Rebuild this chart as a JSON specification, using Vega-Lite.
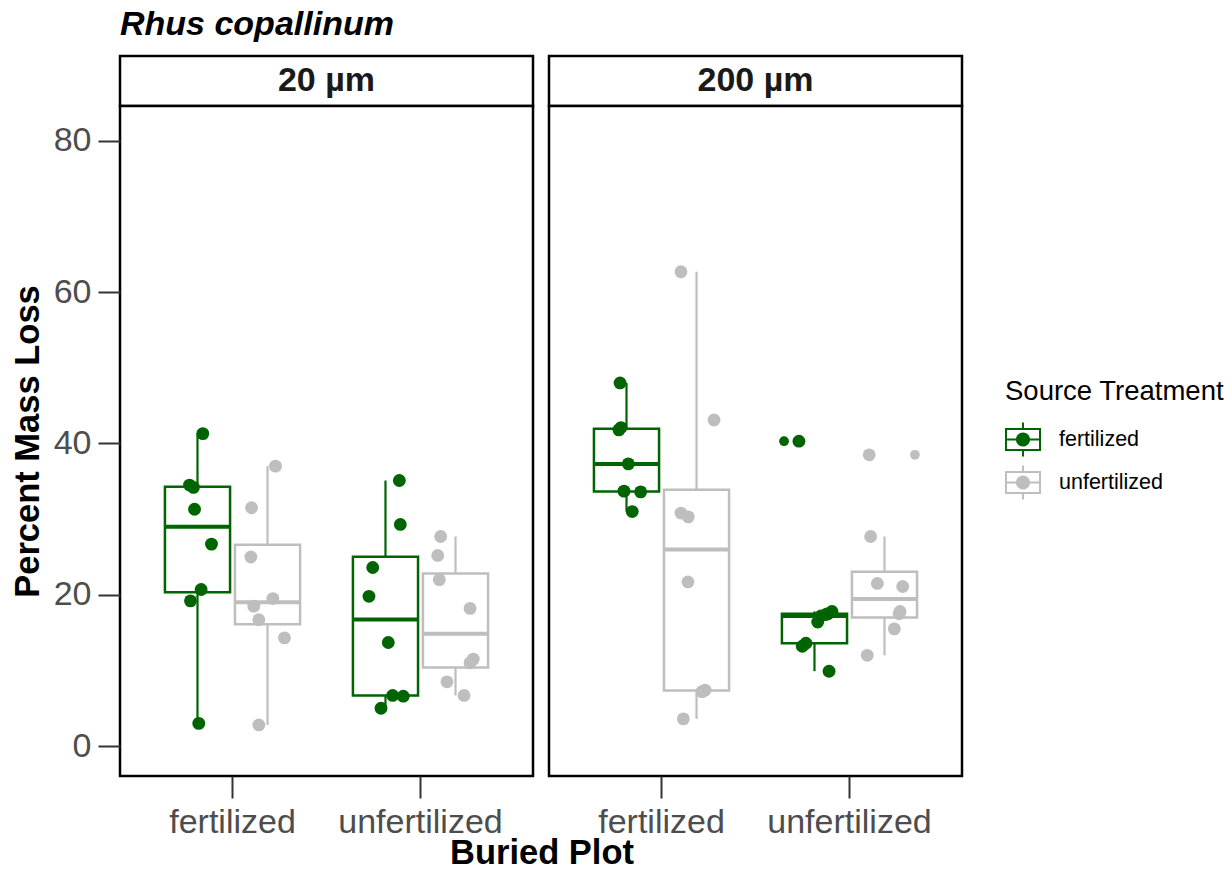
{
  "$schema": "https://vega.github.io/schema/vega-lite/v6.json",
  "background": "white",
  "padding": {"left": 8, "top": 7, "right": 5, "bottom": 0},
  "bounds": "flush",
  "title": {"text": "Rhus copallinum", "anchor": "start", "frame": "group", "fontSize": 34, "fontStyle": "italic", "fontWeight": "bold", "color": "black", "offset": 13},
  "data": {"values": [
    {"mesh": "20 µm", "buried": "fertilized", "source": "fertilized", "loss": 41.3, "jitter": 0.038},
    {"mesh": "20 µm", "buried": "fertilized", "source": "fertilized", "loss": 34.5, "jitter": -0.057},
    {"mesh": "20 µm", "buried": "fertilized", "source": "fertilized", "loss": 34.2, "jitter": -0.029},
    {"mesh": "20 µm", "buried": "fertilized", "source": "fertilized", "loss": 31.3, "jitter": -0.021},
    {"mesh": "20 µm", "buried": "fertilized", "source": "fertilized", "loss": 26.7, "jitter": 0.100},
    {"mesh": "20 µm", "buried": "fertilized", "source": "fertilized", "loss": 20.7, "jitter": 0.026},
    {"mesh": "20 µm", "buried": "fertilized", "source": "fertilized", "loss": 19.2, "jitter": -0.050},
    {"mesh": "20 µm", "buried": "fertilized", "source": "fertilized", "loss": 3.0, "jitter": 0.009},
    {"mesh": "20 µm", "buried": "fertilized", "source": "unfertilized", "loss": 37.0, "jitter": 0.057},
    {"mesh": "20 µm", "buried": "fertilized", "source": "unfertilized", "loss": 31.5, "jitter": -0.114},
    {"mesh": "20 µm", "buried": "fertilized", "source": "unfertilized", "loss": 25.0, "jitter": -0.119},
    {"mesh": "20 µm", "buried": "fertilized", "source": "unfertilized", "loss": 19.5, "jitter": 0.038},
    {"mesh": "20 µm", "buried": "fertilized", "source": "unfertilized", "loss": 18.5, "jitter": -0.098},
    {"mesh": "20 µm", "buried": "fertilized", "source": "unfertilized", "loss": 16.7, "jitter": -0.062},
    {"mesh": "20 µm", "buried": "fertilized", "source": "unfertilized", "loss": 14.3, "jitter": 0.121},
    {"mesh": "20 µm", "buried": "fertilized", "source": "unfertilized", "loss": 2.8, "jitter": -0.062},
    {"mesh": "20 µm", "buried": "unfertilized", "source": "fertilized", "loss": 35.1, "jitter": 0.099},
    {"mesh": "20 µm", "buried": "unfertilized", "source": "fertilized", "loss": 29.3, "jitter": 0.106},
    {"mesh": "20 µm", "buried": "unfertilized", "source": "fertilized", "loss": 23.6, "jitter": -0.091},
    {"mesh": "20 µm", "buried": "unfertilized", "source": "fertilized", "loss": 19.8, "jitter": -0.118},
    {"mesh": "20 µm", "buried": "unfertilized", "source": "fertilized", "loss": 13.7, "jitter": 0.020},
    {"mesh": "20 µm", "buried": "unfertilized", "source": "fertilized", "loss": 6.7, "jitter": 0.051},
    {"mesh": "20 µm", "buried": "unfertilized", "source": "fertilized", "loss": 6.6, "jitter": 0.127},
    {"mesh": "20 µm", "buried": "unfertilized", "source": "fertilized", "loss": 5.0, "jitter": -0.032},
    {"mesh": "20 µm", "buried": "unfertilized", "source": "unfertilized", "loss": 27.7, "jitter": -0.106},
    {"mesh": "20 µm", "buried": "unfertilized", "source": "unfertilized", "loss": 25.2, "jitter": -0.127},
    {"mesh": "20 µm", "buried": "unfertilized", "source": "unfertilized", "loss": 22.0, "jitter": -0.116},
    {"mesh": "20 µm", "buried": "unfertilized", "source": "unfertilized", "loss": 18.2, "jitter": 0.104},
    {"mesh": "20 µm", "buried": "unfertilized", "source": "unfertilized", "loss": 11.5, "jitter": 0.127},
    {"mesh": "20 µm", "buried": "unfertilized", "source": "unfertilized", "loss": 11.0, "jitter": 0.104},
    {"mesh": "20 µm", "buried": "unfertilized", "source": "unfertilized", "loss": 8.5, "jitter": -0.061},
    {"mesh": "20 µm", "buried": "unfertilized", "source": "unfertilized", "loss": 6.7, "jitter": 0.061},
    {"mesh": "200 µm", "buried": "fertilized", "source": "fertilized", "loss": 48.0, "jitter": -0.046},
    {"mesh": "200 µm", "buried": "fertilized", "source": "fertilized", "loss": 42.1, "jitter": -0.039},
    {"mesh": "200 µm", "buried": "fertilized", "source": "fertilized", "loss": 41.8, "jitter": -0.054},
    {"mesh": "200 µm", "buried": "fertilized", "source": "fertilized", "loss": 37.3, "jitter": 0.013},
    {"mesh": "200 µm", "buried": "fertilized", "source": "fertilized", "loss": 33.7, "jitter": -0.018},
    {"mesh": "200 µm", "buried": "fertilized", "source": "fertilized", "loss": 33.6, "jitter": 0.101},
    {"mesh": "200 µm", "buried": "fertilized", "source": "fertilized", "loss": 31.0, "jitter": 0.041},
    {"mesh": "200 µm", "buried": "fertilized", "source": "unfertilized", "loss": 62.7, "jitter": -0.111},
    {"mesh": "200 µm", "buried": "fertilized", "source": "unfertilized", "loss": 43.1, "jitter": 0.125},
    {"mesh": "200 µm", "buried": "fertilized", "source": "unfertilized", "loss": 30.8, "jitter": -0.111},
    {"mesh": "200 µm", "buried": "fertilized", "source": "unfertilized", "loss": 30.3, "jitter": -0.059},
    {"mesh": "200 µm", "buried": "fertilized", "source": "unfertilized", "loss": 21.7, "jitter": -0.061},
    {"mesh": "200 µm", "buried": "fertilized", "source": "unfertilized", "loss": 7.4, "jitter": 0.061},
    {"mesh": "200 µm", "buried": "fertilized", "source": "unfertilized", "loss": 7.2, "jitter": 0.039},
    {"mesh": "200 µm", "buried": "fertilized", "source": "unfertilized", "loss": 3.6, "jitter": -0.094},
    {"mesh": "200 µm", "buried": "unfertilized", "source": "fertilized", "loss": 40.3, "jitter": -0.111},
    {"mesh": "200 µm", "buried": "unfertilized", "source": "fertilized", "loss": 17.8, "jitter": 0.125},
    {"mesh": "200 µm", "buried": "unfertilized", "source": "fertilized", "loss": 17.5, "jitter": 0.096},
    {"mesh": "200 µm", "buried": "unfertilized", "source": "fertilized", "loss": 17.4, "jitter": 0.082},
    {"mesh": "200 µm", "buried": "unfertilized", "source": "fertilized", "loss": 17.2, "jitter": 0.046},
    {"mesh": "200 µm", "buried": "unfertilized", "source": "fertilized", "loss": 16.4, "jitter": 0.023},
    {"mesh": "200 µm", "buried": "unfertilized", "source": "fertilized", "loss": 13.6, "jitter": -0.061},
    {"mesh": "200 µm", "buried": "unfertilized", "source": "fertilized", "loss": 13.2, "jitter": -0.087},
    {"mesh": "200 µm", "buried": "unfertilized", "source": "fertilized", "loss": 9.9, "jitter": 0.104},
    {"mesh": "200 µm", "buried": "unfertilized", "source": "unfertilized", "loss": 38.5, "jitter": -0.109},
    {"mesh": "200 µm", "buried": "unfertilized", "source": "unfertilized", "loss": 27.7, "jitter": -0.099},
    {"mesh": "200 µm", "buried": "unfertilized", "source": "unfertilized", "loss": 21.5, "jitter": -0.051},
    {"mesh": "200 µm", "buried": "unfertilized", "source": "unfertilized", "loss": 21.1, "jitter": 0.130},
    {"mesh": "200 µm", "buried": "unfertilized", "source": "unfertilized", "loss": 17.8, "jitter": 0.111},
    {"mesh": "200 µm", "buried": "unfertilized", "source": "unfertilized", "loss": 17.5, "jitter": 0.104},
    {"mesh": "200 µm", "buried": "unfertilized", "source": "unfertilized", "loss": 15.5, "jitter": 0.070},
    {"mesh": "200 µm", "buried": "unfertilized", "source": "unfertilized", "loss": 12.0, "jitter": -0.123}
  ]},
  "columns": 2,
  "spacing": {"row": 0, "column": 16},
  "concat": [
    {
      "data": {"values": [{"label": "20 µm"}]},
      "width": 413, "height": 50,
      "layer": [
        {"mark": {"type": "rect", "fill": "white", "stroke": "black", "strokeWidth": 2.5}, "encoding": {}},
        {"mark": {"type": "text", "fontSize": 34, "fontWeight": "bold", "color": "#1A1A1A"}, "encoding": {"text": {"field": "label", "type": "nominal"}}}
      ]
    },
    {
      "data": {"values": [{"label": "200 µm"}]},
      "width": 413, "height": 50,
      "layer": [
        {"mark": {"type": "rect", "fill": "white", "stroke": "black", "strokeWidth": 2.5}, "encoding": {}},
        {"mark": {"type": "text", "fontSize": 34, "fontWeight": "bold", "color": "#1A1A1A"}, "encoding": {"text": {"field": "label", "type": "nominal"}}}
      ]
    },
    {
      "width": 413, "height": 670,
      "transform": [{"filter": "datum.mesh === '20 µm'"}],
      "encoding": {
        "x": {"field": "buried", "type": "nominal", "scale": {"domain": ["fertilized", "unfertilized"], "paddingInner": 0.255, "paddingOuter": 0.226}, "axis": {"title": "Buried Plot", "titleX": 421.5}}
      },
      "layer": [
        {
          "transform": [
            {"joinaggregate": [{"op": "q1", "field": "loss", "as": "jq1"}, {"op": "q3", "field": "loss", "as": "jq3"}, {"op": "median", "field": "loss", "as": "jmed"}], "groupby": ["buried", "source"]},
            {"filter": "datum.loss >= datum.jq1 - 1.5 * (datum.jq3 - datum.jq1) && datum.loss <= datum.jq3 + 1.5 * (datum.jq3 - datum.jq1)"},
            {"aggregate": [{"op": "min", "field": "loss", "as": "wlo"}, {"op": "max", "field": "loss", "as": "whi"}, {"op": "min", "field": "jq1", "as": "q1"}, {"op": "min", "field": "jq3", "as": "q3"}, {"op": "min", "field": "jmed", "as": "med"}], "groupby": ["buried", "source"]}
          ],
          "encoding": {
            "xOffset": {"field": "source", "type": "nominal", "scale": {"domain": ["fertilized", "unfertilized"], "paddingInner": 0.07, "paddingOuter": 0.035}}
          },
          "layer": [
            {"mark": {"type": "rule", "strokeWidth": 2.2, "opacity": 1}, "encoding": {"y": {"field": "wlo", "type": "quantitative", "scale": {"domain": [-3.95, 84.6], "nice": false, "zero": false}, "axis": {"title": "Percent Mass Loss", "values": [0, 20, 40, 60, 80]}}, "y2": {"field": "q1"}, "stroke": {"field": "source", "type": "nominal", "scale": {"domain": ["unfertilized", "fertilized"], "range": ["#BEBEBE", "#006400"]}, "legend": null}}},
            {"mark": {"type": "rule", "strokeWidth": 2.2, "opacity": 1}, "encoding": {"y": {"field": "q3", "type": "quantitative", "scale": {"domain": [-3.95, 84.6], "nice": false, "zero": false}, "axis": {"title": "Percent Mass Loss", "values": [0, 20, 40, 60, 80]}}, "y2": {"field": "whi"}, "stroke": {"field": "source", "type": "nominal", "scale": {"domain": ["unfertilized", "fertilized"], "range": ["#BEBEBE", "#006400"]}, "legend": null}}},
            {"mark": {"type": "bar", "fill": null, "fillOpacity": 0, "strokeWidth": 2.5, "opacity": 1}, "encoding": {"y": {"field": "q1", "type": "quantitative", "scale": {"domain": [-3.95, 84.6], "nice": false, "zero": false}, "axis": {"title": "Percent Mass Loss", "values": [0, 20, 40, 60, 80]}}, "y2": {"field": "q3"}, "stroke": {"field": "source", "type": "nominal", "scale": {"domain": ["unfertilized", "fertilized"], "range": ["#BEBEBE", "#006400"]}, "legend": null}}},
            {"mark": {"type": "tick", "thickness": 4, "size": 65, "opacity": 1}, "encoding": {"y": {"field": "med", "type": "quantitative", "scale": {"domain": [-3.95, 84.6], "nice": false, "zero": false}, "axis": {"title": "Percent Mass Loss", "values": [0, 20, 40, 60, 80]}}, "fill": {"field": "source", "type": "nominal", "scale": {"domain": ["unfertilized", "fertilized"], "range": ["#BEBEBE", "#006400"]}, "legend": null}}}
          ]
        },
        {
          "transform": [
            {"joinaggregate": [{"op": "q1", "field": "loss", "as": "jq1"}, {"op": "q3", "field": "loss", "as": "jq3"}], "groupby": ["buried", "source"]},
            {"filter": "datum.loss < datum.jq1 - 1.5 * (datum.jq3 - datum.jq1) || datum.loss > datum.jq3 + 1.5 * (datum.jq3 - datum.jq1)"}
          ],
          "mark": {"type": "circle", "size": 95, "opacity": 1},
          "encoding": {
            "xOffset": {"field": "source", "type": "nominal", "scale": {"domain": ["fertilized", "unfertilized"], "paddingInner": 0.07, "paddingOuter": 0.035}},
            "y": {"field": "loss", "type": "quantitative", "scale": {"domain": [-3.95, 84.6], "nice": false, "zero": false}, "axis": {"title": "Percent Mass Loss", "values": [0, 20, 40, 60, 80]}},
            "fill": {"field": "source", "type": "nominal", "scale": {"domain": ["unfertilized", "fertilized"], "range": ["#BEBEBE", "#006400"]}, "legend": null}
          }
        },
        {
          "transform": [{"calculate": "(datum.source === 'fertilized' ? -0.25 : 0.25) + datum.jitter", "as": "pos"}],
          "mark": {"type": "circle", "size": 165, "opacity": 1},
          "encoding": {
            "xOffset": {"field": "pos", "type": "quantitative", "scale": {"domain": [-0.5, 0.5]}},
            "y": {"field": "loss", "type": "quantitative", "scale": {"domain": [-3.95, 84.6], "nice": false, "zero": false}, "axis": {"title": "Percent Mass Loss", "values": [0, 20, 40, 60, 80]}},
            "color": {"field": "source", "type": "nominal", "title": "Source Treatment", "scale": {"domain": ["fertilized", "unfertilized"], "range": ["#006400", "#BEBEBE"]},
              "legend": {"orient": "none", "legendX": 885, "legendY": 322, "titleLimit": 400, "labelLimit": 300, "symbolType": "M-1,-0.64L1,-0.64L1,0.64L-1,0.64Z M-0.89,-0.53L-0.89,0.53L0.89,0.53L0.89,-0.53Z M-0.89,-0.055L0.89,-0.055L0.89,0.055L-0.89,0.055Z M-0.055,-0.94L0.055,-0.94L0.055,-0.64L-0.055,-0.64Z M-0.055,0.64L0.055,0.64L0.055,0.94L-0.055,0.94Z M0.39,0A0.39,0.39 0 1,1 -0.39,0A0.39,0.39 0 1,1 0.39,0Z", "symbolSize": 1296, "symbolStrokeWidth": 0, "symbolOpacity": 1, "titleFontSize": 27.5, "titleFontWeight": "normal", "titleColor": "black", "labelFontSize": 21.5, "labelColor": "black", "rowPadding": 8, "titlePadding": 16, "labelOffset": 18}}
          }
        }
      ],
      "resolve": {"scale": {"xOffset": "independent"}}
    },
    {
      "width": 413, "height": 670,
      "transform": [{"filter": "datum.mesh === '200 µm'"}],
      "encoding": {
        "x": {"field": "buried", "type": "nominal", "scale": {"domain": ["fertilized", "unfertilized"], "paddingInner": 0.255, "paddingOuter": 0.226}, "axis": {"title": null}}
      },
      "layer": [
        {
          "transform": [
            {"joinaggregate": [{"op": "q1", "field": "loss", "as": "jq1"}, {"op": "q3", "field": "loss", "as": "jq3"}, {"op": "median", "field": "loss", "as": "jmed"}], "groupby": ["buried", "source"]},
            {"filter": "datum.loss >= datum.jq1 - 1.5 * (datum.jq3 - datum.jq1) && datum.loss <= datum.jq3 + 1.5 * (datum.jq3 - datum.jq1)"},
            {"aggregate": [{"op": "min", "field": "loss", "as": "wlo"}, {"op": "max", "field": "loss", "as": "whi"}, {"op": "min", "field": "jq1", "as": "q1"}, {"op": "min", "field": "jq3", "as": "q3"}, {"op": "min", "field": "jmed", "as": "med"}], "groupby": ["buried", "source"]}
          ],
          "encoding": {
            "xOffset": {"field": "source", "type": "nominal", "scale": {"domain": ["fertilized", "unfertilized"], "paddingInner": 0.07, "paddingOuter": 0.035}}
          },
          "layer": [
            {"mark": {"type": "rule", "strokeWidth": 2.2, "opacity": 1}, "encoding": {"y": {"field": "wlo", "type": "quantitative", "scale": {"domain": [-3.95, 84.6], "nice": false, "zero": false}, "axis": null}, "y2": {"field": "q1"}, "stroke": {"field": "source", "type": "nominal", "scale": {"domain": ["unfertilized", "fertilized"], "range": ["#BEBEBE", "#006400"]}, "legend": null}}},
            {"mark": {"type": "rule", "strokeWidth": 2.2, "opacity": 1}, "encoding": {"y": {"field": "q3", "type": "quantitative", "scale": {"domain": [-3.95, 84.6], "nice": false, "zero": false}, "axis": null}, "y2": {"field": "whi"}, "stroke": {"field": "source", "type": "nominal", "scale": {"domain": ["unfertilized", "fertilized"], "range": ["#BEBEBE", "#006400"]}, "legend": null}}},
            {"mark": {"type": "bar", "fill": null, "fillOpacity": 0, "strokeWidth": 2.5, "opacity": 1}, "encoding": {"y": {"field": "q1", "type": "quantitative", "scale": {"domain": [-3.95, 84.6], "nice": false, "zero": false}, "axis": null}, "y2": {"field": "q3"}, "stroke": {"field": "source", "type": "nominal", "scale": {"domain": ["unfertilized", "fertilized"], "range": ["#BEBEBE", "#006400"]}, "legend": null}}},
            {"mark": {"type": "tick", "thickness": 4, "size": 65, "opacity": 1}, "encoding": {"y": {"field": "med", "type": "quantitative", "scale": {"domain": [-3.95, 84.6], "nice": false, "zero": false}, "axis": null}, "fill": {"field": "source", "type": "nominal", "scale": {"domain": ["unfertilized", "fertilized"], "range": ["#BEBEBE", "#006400"]}, "legend": null}}}
          ]
        },
        {
          "transform": [
            {"joinaggregate": [{"op": "q1", "field": "loss", "as": "jq1"}, {"op": "q3", "field": "loss", "as": "jq3"}], "groupby": ["buried", "source"]},
            {"filter": "datum.loss < datum.jq1 - 1.5 * (datum.jq3 - datum.jq1) || datum.loss > datum.jq3 + 1.5 * (datum.jq3 - datum.jq1)"}
          ],
          "mark": {"type": "circle", "size": 95, "opacity": 1},
          "encoding": {
            "xOffset": {"field": "source", "type": "nominal", "scale": {"domain": ["fertilized", "unfertilized"], "paddingInner": 0.07, "paddingOuter": 0.035}},
            "y": {"field": "loss", "type": "quantitative", "scale": {"domain": [-3.95, 84.6], "nice": false, "zero": false}, "axis": null},
            "fill": {"field": "source", "type": "nominal", "scale": {"domain": ["unfertilized", "fertilized"], "range": ["#BEBEBE", "#006400"]}, "legend": null}
          }
        },
        {
          "transform": [{"calculate": "(datum.source === 'fertilized' ? -0.25 : 0.25) + datum.jitter", "as": "pos"}],
          "mark": {"type": "circle", "size": 165, "opacity": 1},
          "encoding": {
            "xOffset": {"field": "pos", "type": "quantitative", "scale": {"domain": [-0.5, 0.5]}},
            "y": {"field": "loss", "type": "quantitative", "scale": {"domain": [-3.95, 84.6], "nice": false, "zero": false}, "axis": null},
            "color": {"field": "source", "type": "nominal", "title": "Source Treatment", "scale": {"domain": ["fertilized", "unfertilized"], "range": ["#006400", "#BEBEBE"]},
              "legend": {"orient": "none", "legendX": 885, "legendY": 322, "titleLimit": 400, "labelLimit": 300, "symbolType": "M-1,-0.64L1,-0.64L1,0.64L-1,0.64Z M-0.89,-0.53L-0.89,0.53L0.89,0.53L0.89,-0.53Z M-0.89,-0.055L0.89,-0.055L0.89,0.055L-0.89,0.055Z M-0.055,-0.94L0.055,-0.94L0.055,-0.64L-0.055,-0.64Z M-0.055,0.64L0.055,0.64L0.055,0.94L-0.055,0.94Z M0.39,0A0.39,0.39 0 1,1 -0.39,0A0.39,0.39 0 1,1 0.39,0Z", "symbolSize": 1296, "symbolStrokeWidth": 0, "symbolOpacity": 1, "titleFontSize": 27.5, "titleFontWeight": "normal", "titleColor": "black", "labelFontSize": 21.5, "labelColor": "black", "rowPadding": 8, "titlePadding": 16, "labelOffset": 18}}
          }
        }
      ],
      "resolve": {"scale": {"xOffset": "independent"}}
    }
  ],
  "resolve": {"scale": {"color": "shared"}, "legend": {"color": "shared"}},
  "config": {
    "font": "Liberation Sans",
    "view": {"stroke": "black", "strokeWidth": 2.5, "fill": "white"},
    "axis": {"labelFont": "Liberation Sans", "labelFontSize": 34, "labelColor": "#4D4D4D", "tickColor": "#333333", "tickWidth": 2, "tickSize": 22, "labelPadding": 7, "domain": false, "grid": false, "titleFont": "Liberation Sans", "titleFontSize": 34.5, "titleFontWeight": "bold", "titleColor": "black"},
    "axisX": {"labelAngle": 0, "titlePadding": -3},
    "axisY": {"titlePadding": 8}
  }
}
